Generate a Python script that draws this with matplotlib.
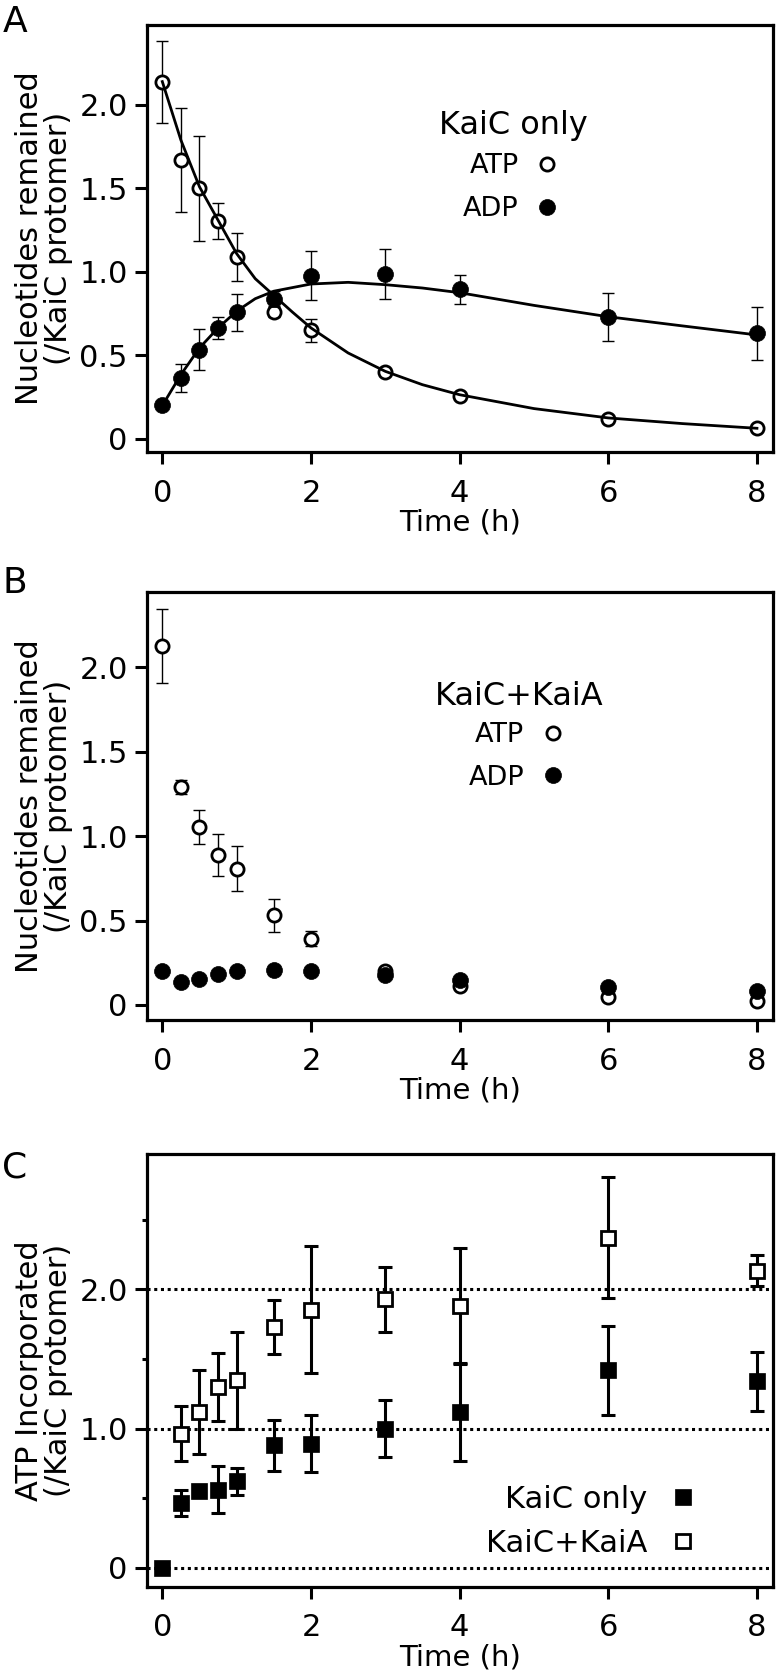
import matplotlib
matplotlib.use('Agg')
import matplotlib.pyplot as plt

plt.rcParams['font.family'] = ['DejaVu Sans']

# sampling times (h)
time_h = [0, 0.25, 0.5, 0.75, 1, 1.5, 2, 3, 4, 6, 8]

# panel A - KaiC only
atp_a = [2.14, 1.67, 1.50, 1.305, 1.09, 0.76, 0.65, 0.40, 0.26, 0.12, 0.068]
atp_a_err = [0.245, 0.313, 0.317, 0.108, 0.142, 0.03, 0.068, 0.02, 0.01, 0.01, 0.01]
adp_a = [0.204, 0.364, 0.534, 0.664, 0.758, 0.84, 0.978, 0.988, 0.896, 0.732, 0.633]
adp_a_err = [0.02, 0.085, 0.122, 0.068, 0.11, 0.045, 0.148, 0.152, 0.087, 0.145, 0.158]

# fitted curves in panel A
fit_t_atp = [0, 0.25, 0.5, 0.75, 1.0, 1.25, 1.5, 1.75, 2.0, 2.5, 3.0, 3.5, 4.0, 5.0, 6.0, 7.0, 8.0]
fit_atp_a = [2.14, 1.79, 1.51, 1.31, 1.11, 0.96, 0.86, 0.76, 0.665, 0.515, 0.405, 0.325, 0.265,
             0.182, 0.126, 0.092, 0.064]
fit_t_adp = [0, 0.25, 0.5, 0.75, 1.0, 1.25, 1.5, 2.0, 2.5, 3.0, 3.5, 4.0, 5.0, 6.0, 7.0, 8.0]
fit_adp_a = [0.20, 0.385, 0.545, 0.665, 0.765, 0.84, 0.885, 0.928, 0.938, 0.924, 0.904, 0.876,
             0.80, 0.732, 0.677, 0.623]

# panel B - KaiC+KaiA
atp_b = [2.124, 1.29, 1.052, 0.89, 0.808, 0.53, 0.392, 0.20, 0.11, 0.045, 0.025]
atp_b_err = [0.22, 0.04, 0.10, 0.125, 0.135, 0.095, 0.045, 0.01, 0.01, 0.01, 0.01]
adp_b = [0.204, 0.135, 0.152, 0.182, 0.204, 0.208, 0.204, 0.175, 0.15, 0.108, 0.08]
adp_b_err = [0.01, 0.01, 0.01, 0.01, 0.01, 0.03, 0.01, 0.01, 0.01, 0.01, 0.01]

# panel C - ATP incorporated
inc_kaic = [0, 0.465, 0.555, 0.561, 0.621, 0.88, 0.892, 1.0, 1.12, 1.42, 1.34]
inc_kaic_err = [0, 0.093, 0.04, 0.17, 0.10, 0.183, 0.204, 0.204, 0.35, 0.32, 0.21]
time_kaia = [0.25, 0.5, 0.75, 1, 1.5, 2, 3, 4, 6, 8]
inc_kaia = [0.964, 1.12, 1.30, 1.348, 1.731, 1.856, 1.928, 1.882, 2.372, 2.134]
inc_kaia_err = [0.197, 0.30, 0.245, 0.35, 0.195, 0.453, 0.236, 0.415, 0.435, 0.11]

W, H = 777, 1673
fig = plt.figure(figsize=(W / 100, H / 100), dpi=100)


def box(top, bottom, left=146.7, right=773.3):
    return [left / W, 1 - bottom / H, (right - left) / W, (bottom - top) / H]


def style_axes(ax, ylim, yticks, yticklabels, ylabel):
    ax.set_xlim(-0.21, 8.22)
    ax.set_ylim(*ylim)
    ax.set_xticks([0, 2, 4, 6, 8])
    ax.set_yticks(yticks)
    ax.set_yticklabels(yticklabels)
    for s in ax.spines.values():
        s.set_linewidth(2.3)
    ax.tick_params(which='major', direction='out', length=8.6, width=2.2, labelsize=22, pad=5)
    ax.tick_params(axis='x', which='major', pad=10.5)
    ax.tick_params(which='minor', direction='out', length=3.6, width=2.2)
    ax.set_xlabel('Time (h)', fontsize=21, labelpad=1)
    ax.set_ylabel(ylabel, fontsize=22, linespacing=1.0)
    ax.yaxis.set_label_coords(-0.118, 0.5)


open_circle = dict(marker='o', ms=9.5, mew=2.0, mfc='white', mec='black', ls='none')
filled_circle = dict(marker='o', ms=11.5, mew=0.5, mfc='black', mec='black', ls='none')
thin_bar = dict(fmt='none', ecolor='black', elinewidth=1.0, capsize=4.3, capthick=1.0)
legend_opts = dict(loc='upper center', frameon=False, markerfirst=False, fontsize=19.5,
                   title_fontsize=23, handlelength=1.2, handletextpad=0.45,
                   labelspacing=0.62, borderpad=0, borderaxespad=0)

nuc_ticks = [0, 0.5, 1.0, 1.5, 2.0]
nuc_labels = ['0', '0.5', '1.0', '1.5', '2.0']
nuc_ylabel = 'Nucleotides remained\n(/KaiC protomer)'

# ---- panel A
ax_a = fig.add_axes(box(25, 452))
ax_a.errorbar(time_h, atp_a, yerr=atp_a_err, zorder=2, **thin_bar)
h_atp, = ax_a.plot(time_h, atp_a, zorder=3, **open_circle)
ax_a.errorbar(time_h, adp_a, yerr=adp_a_err, zorder=3.5, **thin_bar)
h_adp, = ax_a.plot(time_h, adp_a, zorder=4, **filled_circle)
ax_a.plot(fit_t_atp, fit_atp_a, color='black', lw=2.0, zorder=5)
ax_a.plot(fit_t_adp, fit_adp_a, color='black', lw=2.0, zorder=5)
style_axes(ax_a, (-0.078, 2.479), nuc_ticks, nuc_labels, nuc_ylabel)
leg_a = ax_a.legend([h_atp, h_adp], ['ATP', 'ADP'], title='KaiC only',
                    bbox_to_anchor=(0.585, 0.8016), **legend_opts)
# a bit less room between the title and the entries
leg_a._legend_box.sep = 9.0

# ---- panel B
ax_b = fig.add_axes(box(592.3, 1020))
ax_b.errorbar(time_h, atp_b, yerr=atp_b_err, zorder=2, **thin_bar)
h_atp_b, = ax_b.plot(time_h, atp_b, zorder=3, **open_circle)
ax_b.errorbar(time_h, adp_b, yerr=adp_b_err, zorder=3.5, **thin_bar)
h_adp_b, = ax_b.plot(time_h, adp_b, zorder=4, **filled_circle)
style_axes(ax_b, (-0.089, 2.444), nuc_ticks, nuc_labels, nuc_ylabel)
leg_b = ax_b.legend([h_atp_b, h_adp_b], ['ATP', 'ADP'], title='KaiC+KaiA',
                    bbox_to_anchor=(0.594, 0.792), **legend_opts)
leg_b._legend_box.sep = 7.0

# ---- panel C
ax_c = fig.add_axes(box(1154, 1586.7))
for level in [0, 1, 2]:
    ax_c.axhline(level, color='black', lw=2.2, ls=(0, (1, 1.2)), zorder=1)
thick_bar = dict(fmt='none', ecolor='black', elinewidth=2.2, capsize=5, capthick=2.2)
ax_c.errorbar(time_h, inc_kaic, yerr=inc_kaic_err, zorder=2, **thick_bar)
ax_c.errorbar(time_kaia, inc_kaia, yerr=inc_kaia_err, zorder=2, **thick_bar)
h_kaic, = ax_c.plot(time_h, inc_kaic, marker='s', ms=11, mew=0.5, mfc='black', mec='black',
                    ls='none', zorder=3)
h_kaia, = ax_c.plot(time_kaia, inc_kaia, marker='s', ms=9.5, mew=2.0, mfc='white', mec='black',
                    ls='none', zorder=3)
style_axes(ax_c, (-0.135, 2.973), [0, 1.0, 2.0], ['0', '1.0', '2.0'],
           'ATP Incorporated\n(/KaiC protomer)')
ax_c.set_yticks([0.5, 1.5, 2.5], minor=True)
ax_c.legend([h_kaic, h_kaia], ['KaiC only', 'KaiC+KaiA'], loc='upper left',
            bbox_to_anchor=(0.541, 0.235), frameon=False, markerfirst=False,
            fontsize=22, handlelength=1.2, handletextpad=0.58, labelspacing=0.48,
            borderpad=0, borderaxespad=0)

# panel letters
for letter, ypix in [('A', 22), ('B', 583), ('C', 1167)]:
    fig.text(15 / W, 1 - ypix / H, letter, fontsize=26, ha='center', va='center')

fig.savefig('out.png', dpi=100)
